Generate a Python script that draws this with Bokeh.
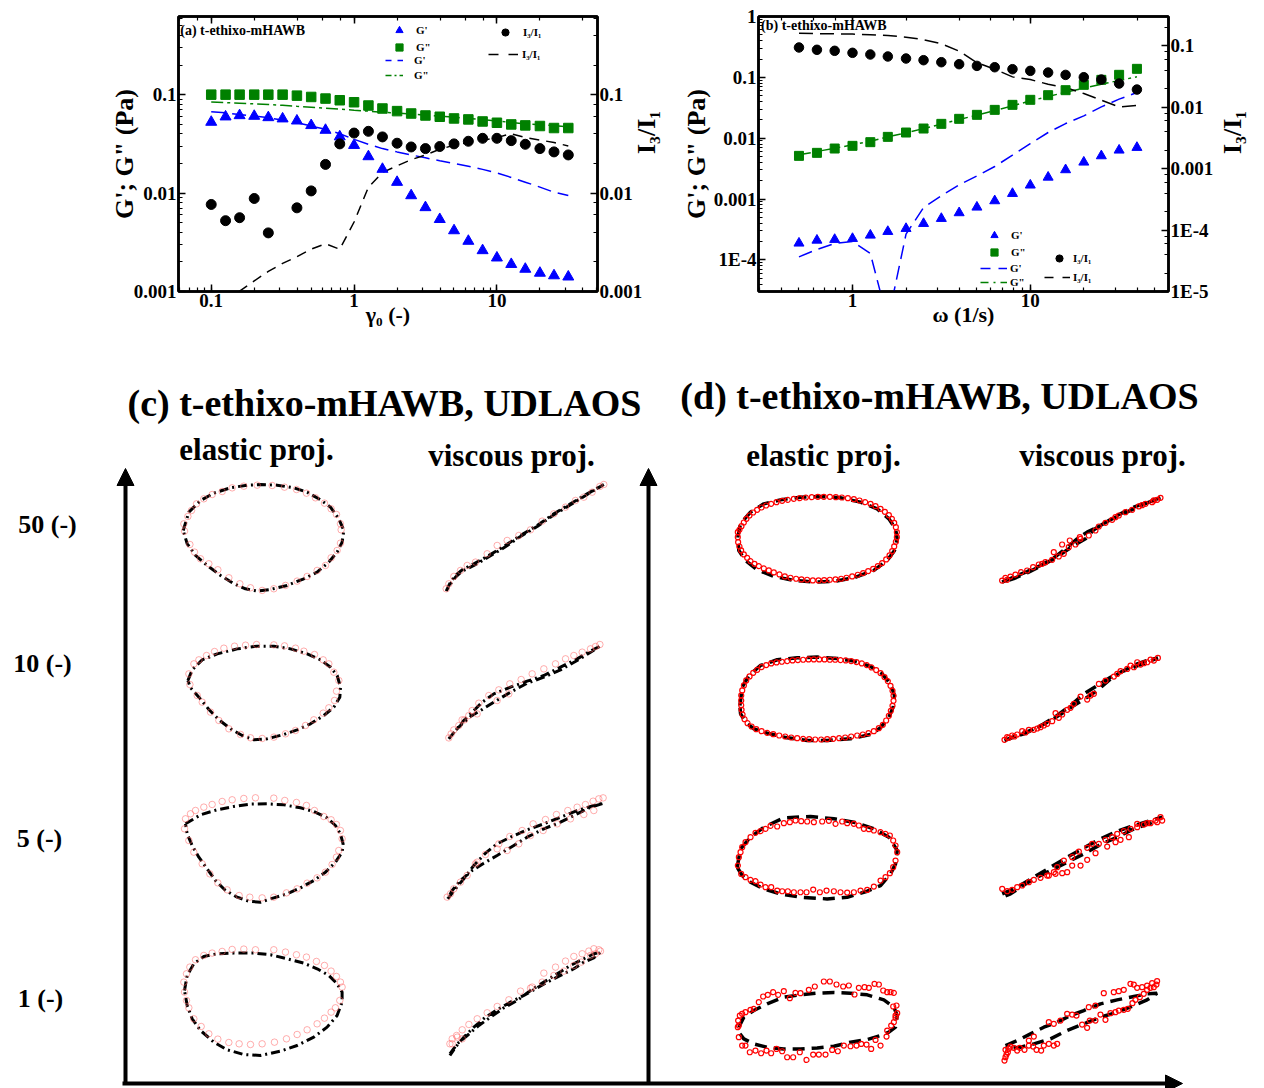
import numpy as np
from bokeh.plotting import figure
from bokeh.models import (Range1d, LogScale, LogAxis, CustomJSTickFormatter, Legend,
                          LegendItem, Arrow, NormalHead, Label)
from bokeh.layouts import column, row
from bokeh.embed import file_html
from bokeh.resources import INLINE

FONT = "Liberation Serif"

# ---------------- panel (a): amplitude sweep ----------------
GAMMA = [0.1, 0.126, 0.158, 0.2, 0.251, 0.316, 0.398, 0.501, 0.631, 0.794, 1.0, 1.26, 1.58,
         2.0, 2.51, 3.16, 3.98, 5.01, 6.31, 7.94, 10.0, 12.6, 15.8, 20.0, 25.1, 31.6]
A_GP = [0.0526, 0.0596, 0.0614, 0.0605, 0.0586, 0.0569, 0.0542, 0.0487, 0.0436, 0.0374, 0.0306,
        0.0235, 0.0175, 0.0129, 0.00944, 0.00714, 0.00541, 0.00416, 0.00325, 0.00261, 0.00220,
        0.00189, 0.00169, 0.00154, 0.00145, 0.00141]
A_GPP = [0.1, 0.1, 0.1, 0.1, 0.1, 0.1, 0.0977, 0.0947, 0.0912, 0.0877, 0.0837, 0.0775, 0.0723,
         0.0680, 0.0643, 0.0614, 0.0596, 0.0573, 0.0560, 0.0534, 0.0518, 0.0498, 0.0487, 0.0480,
         0.0458, 0.0458]
A_GP_FIT = [0.0669, 0.0653, 0.0628, 0.0605, 0.0582, 0.0551, 0.0518, 0.0480, 0.0444, 0.0401, 0.0352,
            0.0313, 0.0283, 0.0262, 0.0244, 0.0228, 0.0213, 0.0200, 0.0187, 0.0174, 0.0160, 0.0144,
            0.0129, 0.0115, 0.0102, 0.00944]
A_GPP_FIT = [0.0844, 0.0830, 0.0818, 0.0805, 0.0793, 0.0780, 0.0762, 0.0745, 0.0728, 0.0711, 0.0695,
             0.0680, 0.0664, 0.0649, 0.0634, 0.0619, 0.0605, 0.0591, 0.0573, 0.0556, 0.0539, 0.0522,
             0.0506, 0.0494, 0.0483, 0.0472]
A_I31_X = [0.1, 0.126, 0.158, 0.2, 0.251, 0.398, 0.501, 0.631, 0.794, 1.0, 1.26, 1.58, 2.0, 2.51,
           3.16, 3.98, 5.01, 6.31, 7.94, 10.0, 12.6, 15.8, 20.0, 25.1, 31.6]
A_I31 = [0.00766, 0.00524, 0.00562, 0.00881, 0.00394, 0.00708, 0.01052, 0.01955, 0.0316, 0.0407,
         0.0424, 0.0372, 0.0321, 0.0294, 0.0283, 0.0297, 0.0316, 0.0336, 0.0360, 0.0360, 0.0341,
         0.0313, 0.0283, 0.0262, 0.0244]
A_I31_FIT = [0.00063, 0.00080, 0.00101, 0.00128, 0.00160, 0.00193, 0.00226, 0.00269, 0.00305,
             0.00269, 0.00508, 0.01146, 0.0162, 0.0189, 0.0218, 0.0244, 0.0279, 0.0306, 0.0326,
             0.0344, 0.0366, 0.0401, 0.0366, 0.0346, 0.0326, 0.0301]

# ---------------- panel (b): frequency sweep ----------------
OMEGA = [0.5, 0.631, 0.794, 1.0, 1.26, 1.58, 2.0, 2.51, 3.16, 3.98, 5.01, 6.31, 7.94, 10.0, 12.6,
         15.8, 20.0, 25.1, 31.6, 39.8]
B_GP = [1.88e-4, 2.10e-4, 2.16e-4, 2.24e-4, 2.54e-4, 2.92e-4, 3.27e-4, 3.95e-4, 4.78e-4, 5.93e-4,
        7.34e-4, 9.33e-4, 1.23e-3, 1.69e-3, 2.28e-3, 3.02e-3, 4.03e-3, 5.12e-3, 6.35e-3, 7.03e-3]
B_GPP = [5.12e-3, 5.74e-3, 6.76e-3, 7.48e-3, 8.60e-3, 0.01051, 0.01239, 0.01441, 0.01720, 0.0208,
         0.0242, 0.0292, 0.0353, 0.0427, 0.0509, 0.0615, 0.0753, 0.0910, 0.110, 0.138]
B_GP_FIT = [1.12e-4, 1.48e-4, 1.86e-4, 2.00e-4, 1.27e-4, 1.0e-5, 2.64e-4, 7.25e-4, 1.13e-3, 1.71e-3,
            2.40e-3, 3.42e-3, 5.26e-3, 8.17e-3, 0.0124, 0.0174, 0.0233, 0.0327, 0.0438, 0.0563]
B_GPP_FIT = [5.32e-3, 6.04e-3, 6.85e-3, 7.77e-3, 8.92e-3, 0.0105, 0.0122, 0.0144, 0.0170, 0.0203,
             0.0239, 0.0285, 0.0340, 0.0411, 0.0484, 0.0570, 0.0664, 0.0773, 0.0887, 0.102]
B_I31 = [0.0939, 0.0861, 0.0829, 0.0769, 0.0722, 0.0670, 0.0621, 0.0583, 0.0541, 0.0502, 0.0471,
         0.0448, 0.0416, 0.0391, 0.0367, 0.0336, 0.0308, 0.0282, 0.0243, 0.0194]
B_I31_FIT = [0.160, 0.158, 0.157, 0.155, 0.152, 0.147, 0.138, 0.126, 0.108, 0.082, 0.053, 0.0416,
             0.0312, 0.0282, 0.0237, 0.0209, 0.0167, 0.0130, 0.0101, 0.0107]

# ---------------- Lissajous loops (strain, stress) ----------------
# arbitrary picture units; the stress reading grows downward (it is flipped when drawn)
C50_EL_LINE = [(68,180),(85,125),(120,90),(160,68),(210,52),(260,44),(300,42),(350,44),(400,52),(440,65),(480,88),(510,110),(535,145),(550,180),(545,215),(530,245),(505,275),(470,305),(430,325),(380,345),(330,357),(290,362),(255,355),(220,340),(180,315),(140,285),(105,255),(80,220),(68,180)]
C50_EL_PTS = [(70,160),(72,182),(82,138),(93,120),(108,100),(130,85),(155,72),(185,63),(215,52),(250,47),(290,44),(335,45),(372,50),(408,57),(438,68),(465,82),(492,98),(512,115),(528,132),(540,160),(542,178),(540,218),(530,240),(512,262),(495,285),(470,300),(440,318),(410,332),(375,345),(340,355),(305,360),(270,352),(238,340),(205,322),(172,298),(145,280),(120,265),(102,245),(88,222)]
C50_VI_LINE = [(857,362),(870,335),(885,315),(905,298),(940,280),(980,258),(1030,228),(1080,195),(1130,165),(1180,130),(1230,100),(1280,70),(1330,42),(1280,72),(1230,103),(1180,133),(1130,168),(1080,198),(1030,232),(980,262),(940,285),(905,302),(885,320),(870,340),(857,362)]
C50_VI_PTS = [(857,355),(865,340),(880,318),(900,300),(920,285),(945,275),(980,250),(1010,225),(1040,210),(1075,195),(1110,178),(1145,152),(1180,130),(1215,110),(1245,90),(1270,80),(1295,65),(1318,48),(1330,42)]

C10_EL_LINE = [(82,150),(95,118),(125,88),(170,70),(230,55),(290,47),(340,47),(390,55),(440,70),(480,88),(510,110),(530,135),(540,170),(538,200),(520,230),(490,255),(450,280),(410,298),(370,312),(320,325),(280,328),(245,315),(210,295),(175,268),(145,237),(115,200),(90,172),(82,150)]
C10_EL_PTS = [(85,130),(88,162),(100,100),(115,88),(138,75),(162,63),(190,53),(222,47),(255,44),(288,42),(340,43),(372,46),(405,53),(430,62),(462,72),(488,88),(505,100),(520,125),(535,150),(528,182),(522,210),(505,232),(488,248),(460,268),(435,285),(405,300),(375,310),(340,320),(305,324),(270,322),(240,312),(205,295),(175,270),(150,245),(125,215),(110,195)]
C10_VI_LINE = [(865,325),(885,300),(910,270),(935,245),(965,215),(1000,190),(1050,170),(1100,152),(1150,135),(1200,110),(1250,85),(1290,62),(1322,45),(1290,65),(1250,90),(1200,118),(1150,140),(1100,158),(1050,185),(1000,215),(960,240),(930,258),(905,280),(885,300),(865,325)]
C10_VI_PTS = [(865,322),(872,310),(880,298),(895,285),(905,268),(925,255),(935,240),(955,218),(985,195),(1015,178),(1048,160),(1082,147),(1115,130),(1150,115),(1185,100),(1215,85),(1240,75),(1265,65),(1290,55),(1305,48),(1318,42),(1010,210),(1045,190),(950,250),(912,268)]

C5_EL_LINE = [(75,580),(120,553),(170,538),(220,528),(270,521),(320,520),(370,523),(420,532),(460,543),(500,562),(525,585),(540,610),(548,640),(545,665),(525,695),(495,725),(460,750),(420,772),(380,790),(340,802),(300,815),(265,812),(230,800),(195,780),(165,750),(140,715),(115,680),(95,645),(80,610),(75,580)]
C5_EL_PTS = [(75,565),(90,550),(105,540),(130,530),(155,522),(185,513),(215,508),(250,504),(285,502),(340,503),(373,510),(408,516),(438,525),(462,540),(490,558),(512,568),(528,582),(540,600),(545,625),(535,660),(528,680),(515,702),(495,725),(470,742),(440,758),(410,775),(378,787),(340,800),(305,802),(268,800),(236,795),(200,778),(172,757),(148,730),(125,700),(100,665),(85,630),(72,595)]
C5_VI_LINE = [(862,805),(885,775),(910,745),(940,705),(975,668),(1010,640),(1050,620),(1100,598),(1150,580),(1200,560),(1250,540),(1300,525),(1330,518),(1290,530),(1240,555),(1200,575),(1150,595),(1100,620),(1060,645),(1010,675),(970,698),(935,720),(900,750),(875,780),(862,805)]
C5_VI_PTS = [(860,800),(870,790),(880,775),(900,755),(920,735),(945,700),(1015,640),(1048,618),(1085,600),(1118,580),(1155,567),(1188,552),(1222,540),(1250,530),(1275,522),(1298,512),(1315,505),(1328,502),(950,695),(975,672),(1010,655),(1040,660),(1075,640),(1110,615),(1148,600),(1190,580),(1230,565),(1270,552),(1300,540)]

C1_EL_LINE = [(72,210),(80,165),(100,130),(130,108),(170,100),(220,98),(280,98),(330,103),(380,115),(430,128),(470,145),(505,165),(530,190),(545,215),(545,245),(530,285),(500,320),(460,350),(410,375),(360,392),(300,405),(250,402),(200,388),(160,365),(120,330),(95,295),(80,255),(72,210)]
C1_EL_PTS = [(70,185),(78,160),(88,140),(105,118),(130,105),(155,98),(185,93),(215,87),(250,86),(285,88),(340,88),(375,95),(408,103),(438,110),(468,123),(492,135),(512,152),(528,168),(540,185),(545,200),(538,240),(525,262),(512,275),(492,293),(470,310),(440,328),(410,342),(378,355),(342,365),(305,370),(270,372),(236,370),(205,366),(172,356),(145,340),(122,318),(100,295),(85,262),(78,240),(72,215)]
C1_VI_LINE = [(868,400),(890,370),(920,345),(955,315),(990,290),(1030,262),(1070,240),(1110,210),(1150,185),(1190,160),(1230,135),(1270,115),(1300,100),(1320,95),(1300,112),(1270,125),(1240,145),(1200,165),(1160,185),(1125,205),(1090,225),(1050,245),(1010,268),(975,290),(940,320),(910,350),(885,380),(868,405)]
C1_VI_PTS = [(868,370),(875,355),(888,345),(905,328),(925,312),(950,295),(980,277),(1010,258),(1045,238),(1080,212),(1115,200),(1150,158),(1185,140),(1215,122),(1240,108),(1265,100),(1285,92),(1300,85),(1315,88),(1320,92),(1305,100),(1290,105),(1262,125),(1240,135),(1210,152),(1180,165),(1145,185),(1110,203),(905,355),(890,350),(875,370)]

D50_EL_LINE = [(112,200),(120,160),(150,125),(190,100),(240,88),(300,80),(360,78),(420,82),(480,95),(530,115),(565,145),(585,175),(590,205),(582,240),(560,270),(520,300),(460,322),(400,333),(340,335),(280,330),(220,318),(170,298),(135,270),(115,240),(112,200)]
D50_EL_PTS = [(112,185),(112,200),(113,215),(117,228),(122,240),(130,252),(140,262),(150,272),(162,280),(175,287),(190,294),(205,300),(220,306),(237,312),(253,318),(270,322),(287,325),(303,327),(320,328),(337,330),(354,330),(371,329),(388,328),(405,327),(422,325),(438,322),(455,318),(472,313),(488,308),(503,302),(518,295),(532,287),(545,278),(557,267),(567,255),(575,242),(581,228),(586,214),(589,200),(589,185),(586,170),(581,157),(574,145),(565,134),(553,124),(540,115),(525,107),(510,100),(494,95),(477,90),(460,86),(442,83),(424,81),(406,80),(388,79),(370,79),(352,79),(334,80),(316,81),(298,83),(280,85),(262,88),(245,91),(228,95),(212,100),(197,105),(183,111),(170,118),(158,126),(147,135),(138,145),(130,156),(123,167),(117,178)]
D50_VI_LINE = [(905,335),(940,320),(980,303),(1020,285),(1060,262),(1095,235),(1130,205),(1160,185),(1200,165),(1250,135),(1300,110),(1340,95),(1380,82),(1340,97),(1300,115),(1250,138),(1210,158),(1180,178),(1155,205),(1120,225),(1090,245),(1060,265),(1020,287),(980,307),(940,324),(905,335)]
D50_VI_PTS = [(905,330),(915,322),(930,318),(945,312),(962,305),(980,300),(998,290),(1015,282),(1035,275),(1055,268),(1075,258),(1090,250),(1105,230),(1125,222),(1140,205),(1165,195),(1185,180),(1195,168),(1215,157),(1235,148),(1255,135),(1275,125),(1295,118),(1315,108),(1335,100),(1355,95),(1370,88),(1380,82),(1138,200),(1108,210),(1085,222),(1060,245),(920,328),(1025,280),(1245,140),(1325,104),(1360,90)]

D10_EL_LINE = [(118,195),(125,140),(145,105),(180,75),(230,58),(290,52),(350,50),(410,54),(460,62),(510,78),(545,100),(570,130),(582,165),(578,200),(565,230),(540,262),(510,282),(450,295),(380,300),(320,300),(260,292),(200,278),(160,265),(135,245),(120,220),(118,195)]
D10_EL_PTS = [(122,180),(122,165),(125,150),(130,135),(137,120),(147,108),(158,97),(170,88),(183,80),(197,74),(212,69),(228,66),(244,64),(260,62),(276,60),(292,59),(308,58),(324,57),(340,57),(356,57),(372,57),(388,58),(404,58),(420,59),(436,60),(452,62),(468,65),(484,69),(499,74),(513,81),(527,89),(540,98),(552,110),(562,122),(570,136),(576,151),(579,166),(579,181),(576,196),(571,211),(565,226),(557,240),(547,253),(535,263),(520,272),(504,278),(487,282),(470,285),(452,288),(434,291),(416,293),(398,295),(380,296),(362,297),(344,297),(326,296),(308,295),(290,293),(272,291),(254,288),(236,285),(218,281),(200,277),(183,272),(167,266),(153,258),(141,248),(132,236),(126,222),(123,208),(122,194)]
D10_VI_LINE = [(912,300),(950,285),(990,270),(1030,250),(1070,225),(1110,195),(1150,160),(1190,135),(1230,110),(1270,90),(1310,70),(1345,58),(1372,52),(1340,65),(1300,80),(1260,95),(1230,115),(1190,150),(1160,170),(1120,195),(1090,215),(1050,240),(1010,262),(970,280),(940,290),(912,300)]
D10_VI_PTS = [(912,298),(920,290),(935,285),(950,282),(965,272),(985,268),(1000,268),(1020,260),(1040,250),(1055,242),(1065,218),(1085,222),(1100,208),(1120,190),(1140,168),(1160,177),(1180,160),(1195,130),(1215,120),(1240,108),(1260,92),(1280,85),(1300,80),(1320,72),(1340,65),(1360,60),(1372,52),(1350,57),(1330,68),(1310,65),(1290,75),(925,292),(942,288),(975,276),(1010,264),(1030,255),(1075,232),(1110,202),(1170,165),(1250,100)]

D5_EL_LINE = [(110,680),(120,625),(150,590),(190,560),(250,532),(330,528),(400,535),(460,545),(520,565),(565,590),(590,630),(585,670),(570,700),(540,735),(500,752),(440,770),(380,775),(300,770),(240,760),(190,745),(150,725),(125,705),(110,680)]
D5_EL_PTS = [(150,590),(165,577),(180,572),(195,565),(210,556),(230,558),(250,548),(268,545),(285,540),(302,542),(320,543),(340,545),(365,543),(385,541),(405,550),(425,543),(440,548),(460,550),(475,555),(490,565),(505,566),(520,570),(540,575),(555,580),(568,585),(578,600),(585,615),(590,635),(585,660),(578,680),(568,698),(555,710),(540,720),(520,738),(500,748),(480,750),(460,755),(440,756),(420,755),(400,752),(378,750),(358,755),(338,747),(318,755),(300,755),(280,755),(262,752),(245,752),(230,750),(212,740),(195,740),(180,732),(165,722),(150,718),(135,710),(122,700),(112,675),(115,650),(120,635),(125,620),(135,605)]
D5_VI_LINE = [(905,760),(950,740),(1000,710),(1050,680),(1100,650),(1150,622),(1200,595),(1250,572),(1300,555),(1350,540),(1385,530),(1350,548),(1300,565),(1250,590),(1200,612),(1150,640),(1100,665),(1050,690),(1000,715),(960,740),(930,760),(905,770)]
D5_VI_PTS = [(905,745),(920,752),(935,748),(950,740),(965,735),(985,725),(1000,718),(1020,712),(1040,705),(1060,695),(1070,680),(1090,660),(1115,650),(1135,633),(1160,622),(1175,610),(1195,610),(1215,598),(1235,590),(1250,580),(1270,572),(1290,565),(1310,560),(1330,552),(1350,548),(1370,545),(1385,540),(1380,530),(1365,540),(1340,548),(1310,550),(1285,590),(1260,598),(1245,605),(1220,618),(1185,638),(1160,658),(1140,675),(1115,675),(1100,695),(1085,698),(1065,700),(1045,705)]

D1_EL_LINE = [(115,200),(130,170),(160,150),(200,130),(250,110),(300,103),(350,98),(400,96),(450,98),(500,103),(550,118),(580,140),(590,165),(585,200),(565,215),(540,225),(500,237),(450,245),(400,257),(350,262),(300,265),(250,265),(200,260),(160,250),(130,235),(115,215),(115,200)]
D1_EL_PTS = [(115,195),(113,180),(118,165),(125,160),(135,155),(150,148),(160,145),(175,125),(188,108),(202,103),(218,95),(233,103),(250,92),(268,113),(285,97),(300,98),(325,88),(343,78),(370,63),(388,63),(408,72),(428,78),(445,75),(462,102),(475,82),(492,80),(505,82),(522,70),(535,72),(548,90),(560,95),(570,95),(580,97),(578,138),(588,135),(590,158),(585,165),(585,172),(580,185),(572,195),(560,210),(558,228),(540,255),(525,238),(512,265),(498,252),(482,250),(468,255),(450,257),(430,255),(412,272),(395,268),(375,282),(355,282),(338,282),(318,298),(298,275),(278,290),(260,290),(245,272),(228,265),(212,278),(198,270),(182,278),(165,270),(148,275),(135,255),(125,255),(115,230),(112,200)]
D1_VI_LINE = [(915,255),(950,240),(990,220),(1030,200),(1070,185),(1110,165),(1150,150),(1200,130),(1250,118),(1300,108),(1340,100),(1370,98),(1340,118),(1300,135),(1250,155),(1200,170),(1150,190),(1100,210),(1050,235),(1000,250),(960,260),(930,263),(915,262)]
D1_VI_PTS = [(912,300),(915,290),(918,282),(922,275),(915,268),(925,265),(930,258),(940,262),(950,270),(958,262),(972,268),(985,255),(998,258),(1008,268),(1022,270),(1030,255),(1045,250),(1060,255),(1070,250),(985,240),(1000,228),(1045,185),(1060,190),(1080,180),(1100,160),(1115,162),(1128,165),(1145,192),(1160,202),(1168,180),(1185,180),(1200,162),(1215,178),(1230,158),(1245,155),(1255,150),(1270,148),(1282,145),(1296,128),(1305,118),(1318,110),(1330,100),(1340,88),(1350,82),(1360,80),(1368,72),(1370,62),(1355,68),(1340,75),(1325,80),(1310,82),(1300,72),(1290,70),(1270,88),(1255,92),(1240,95),(1210,98),(1185,135),(1165,140)]

ROW_LABELS = ["50 (-)", "10 (-)", "5 (-)", "1 (-)"]


# ---------------- helpers ----------------
def logfmt():
    return CustomJSTickFormatter(code="""
        const e = Math.round(Math.log10(tick));
        if (e >= 0) { return String(Math.round(tick)); }
        if (e < -3) { return "1E" + e; }
        return tick.toFixed(-e);
    """)


def blankfmt():
    return CustomJSTickFormatter(code="return '';")


def style_axis(ax, label_size="26px", tick_size="19px"):
    ax.axis_line_width = 2.5
    ax.axis_line_color = "black"
    ax.major_tick_in = 7
    ax.major_tick_out = 0
    ax.minor_tick_in = 4
    ax.minor_tick_out = 0
    ax.major_tick_line_width = 1.5
    ax.minor_tick_line_width = 1.2
    ax.major_label_text_font = FONT
    ax.major_label_text_font_style = "bold"
    ax.major_label_text_font_size = tick_size
    ax.major_label_text_color = "black"
    ax.major_label_standoff = 2
    ax.axis_label_text_font = FONT
    ax.axis_label_text_font_style = "bold"
    ax.axis_label_text_font_size = label_size
    ax.axis_label_text_color = "black"


def add_key(p, rend, text, gx0, gx1, cy, gh, standoff, fl, fb):
    lg = Legend(items=[LegendItem(label=text, renderers=[rend])],
                location=(gx0 - fl, fb - (cy + gh / 2)),
                glyph_width=int(round(gx1 - gx0)), glyph_height=gh, label_height=gh,
                label_width=10, label_standoff=standoff, padding=0, margin=0, spacing=0,
                border_line_color=None, background_fill_alpha=0,
                label_text_font=FONT, label_text_font_style="bold", label_text_font_size="11px",
                label_text_color="black")
    p.add_layout(lg, "center")


def key_line(p, color, dash, y_range_name="default"):
    # swatch-only renderer (one point, draws nothing in the plot) with the key's short dashes
    return p.line(x=[1e-9], y=[1e-9], line_color=color, line_width=1.5, line_dash=dash,
                  y_range_name=y_range_name)


def make_log_fig(width, xr, yr, yr2, mbl, mbr, mbb, right_standoff):
    p = figure(width=width, height=348, x_axis_type="log", y_axis_type="log",
               x_range=Range1d(*xr), y_range=Range1d(*yr),
               output_backend="svg", toolbar_location=None,
               min_border_left=mbl, min_border_right=mbr, min_border_top=16, min_border_bottom=mbb)
    p.grid.visible = False
    p.outline_line_color = "black"
    p.outline_line_width = 2.5
    p.background_fill_color = "white"
    p.border_fill_color = "white"
    p.extra_y_ranges = {"r": Range1d(*yr2)}
    p.extra_y_scales = {"r": LogScale()}
    bx = p.below[0]
    ly = p.left[0]
    bx.formatter = logfmt()
    ly.formatter = logfmt()
    style_axis(bx, label_size="22px")
    style_axis(ly)
    axr = LogAxis(y_range_name="r", formatter=logfmt(), axis_label="I₃/I₁")
    style_axis(axr)
    axr.axis_label_standoff = right_standoff
    try:
        axr.axis_label_orientation = np.pi / 2   # read bottom-to-top like the reference
    except AttributeError:
        pass
    p.add_layout(axr, "right")
    axt = LogAxis(formatter=blankfmt())
    style_axis(axt, tick_size="1px")
    axt.major_label_standoff = 0
    p.add_layout(axt, "above")
    return p, bx, ly


# ---------------- panel (a) ----------------
pa, pa_x, pa_y = make_log_fig(678, (0.059, 50.6), (0.001, 0.622), (0.001, 0.622), 178, 78, 54, 1)
pa_x.axis_label = "γ₀ (-)"
pa_x.axis_label_standoff = -8
pa_y.axis_label = "G'; G\" (Pa)"
pa_y.axis_label_standoff = -8

pa.line(GAMMA, A_GP_FIT, line_color="#0000ff", line_width=1.5, line_dash="14 7")
pa.line(GAMMA, A_GPP_FIT, line_color="#008000", line_width=1.5, line_dash="12 4 3 4")
pa.line(GAMMA, A_I31_FIT, line_color="black", line_width=1.5, line_dash="10 7", y_range_name="r")
ra_gp = pa.scatter(GAMMA, A_GP, marker="triangle", size=11, color="#0000ff")
ra_gpp = pa.scatter(GAMMA, A_GPP, marker="square", size=9.5, color="#008000")
ra_i3 = pa.scatter(A_I31_X, A_I31, marker="circle", size=10, color="black", y_range_name="r")
ka_gpf = key_line(pa, "#0000ff", "6 6")
ka_gppf = key_line(pa, "#008000", "6 3 2 3")
ka_i3f = key_line(pa, "black", "10 10", "r")

pa.add_layout(Label(x=0.0607, y=0.452, text="(a) t-ethixo-mHAWB", text_font=FONT,
                    text_font_style="bold", text_font_size="14px", text_baseline="middle",
                    text_color="black"))
FLA, FBA = 178, 294
add_key(pa, ra_gp, "G'", 390, 408, 33.3, 18, 8, FLA, FBA)
add_key(pa, ra_gpp, 'G"', 390, 408, 50, 18, 8, FLA, FBA)
add_key(pa, ka_gpf, "G'", 385, 403, 63.3, 12, 11, FLA, FBA)
add_key(pa, ka_gppf, 'G"', 385, 403, 78, 12, 11, FLA, FBA)
add_key(pa, ra_i3, "I₃/I₁", 496, 514, 35, 18, 9, FLA, FBA)
add_key(pa, ka_i3f, "I₃/I₁", 488, 518, 57.3, 12, 4, FLA, FBA)

# ---------------- panel (b) ----------------
pb, pb_x, pb_y = make_log_fig(586, (0.296, 59.9), (3.02e-5, 1.0), (1e-5, 0.30), 78, 90, 57, 16)
pb_x.axis_label = "ω (1/s)"
pb_x.axis_label_standoff = -8
pb_y.axis_label = "G'; G\" (Pa)"
pb_y.axis_label_standoff = 0

pb.line(OMEGA, B_GP_FIT, line_color="#0000ff", line_width=1.5, line_dash="14 7")
pb.line(OMEGA, B_GPP_FIT, line_color="#008000", line_width=1.5, line_dash="12 4 3 4")
pb.line(OMEGA, B_I31_FIT, line_color="black", line_width=1.5, line_dash="14 7", y_range_name="r")
rb_gp = pb.scatter(OMEGA, B_GP, marker="triangle", size=10, color="#0000ff")
rb_gpp = pb.scatter(OMEGA, B_GPP, marker="square", size=9, color="#008000")
rb_i3 = pb.scatter(OMEGA, B_I31, marker="circle", size=9.5, color="black", y_range_name="r")
kb_gpf = key_line(pb, "#0000ff", "10 8")
kb_gppf = key_line(pb, "#008000", "8 5 2 5")
kb_i3f = key_line(pb, "black", "9 9", "r")

pb.add_layout(Label(x=0.306, y=0.70, text="(b) t-ethixo-mHAWB", text_font=FONT,
                    text_font_style="bold", text_font_size="14px", text_baseline="middle",
                    text_color="black"))
FLB, FBB = 756, 291
add_key(pb, rb_gp, "G'", 983, 1001, 235, 18, 8, FLB, FBB)
add_key(pb, rb_gpp, 'G"', 983, 1001, 252.3, 18, 8, FLB, FBB)
add_key(pb, kb_gpf, "G'", 978, 1005, 267.7, 12, 3, FLB, FBB)
add_key(pb, kb_gppf, 'G"', 978, 1005, 281.7, 12, 3, FLB, FBB)
add_key(pb, rb_i3, "I₃/I₁", 1048, 1066, 257.7, 18, 5, FLB, FBB)
add_key(pb, kb_i3f, "I₃/I₁", 1042, 1068, 277.3, 12, 3, FLB, FBB)

# ---------------- panels (c), (d): UDLAOS projections ----------------
pc = figure(width=1264, height=740, x_range=Range1d(0, 1264), y_range=Range1d(1088, 348),
            output_backend="svg", toolbar_location=None, x_axis_location=None,
            y_axis_location=None, min_border=0, min_border_left=0, min_border_right=0,
            min_border_top=0, min_border_bottom=0)
pc.grid.visible = False
pc.outline_line_color = None
pc.background_fill_color = "white"
pc.border_fill_color = "white"


def loop_xy(points, ref, box):
    x = np.array([q[0] for q in points], float)
    s = -np.array([q[1] for q in points], float)
    rx = np.array([q[0] for q in ref], float)
    rs = -np.array([q[1] for q in ref], float)
    gx = (x - (rx.max() + rx.min()) / 2) / ((rx.max() - rx.min()) / 2)
    gs = (s - (rs.max() + rs.min()) / 2) / ((rs.max() - rs.min()) / 2)
    cx, cy, hw, hh = box
    return cx + gx * hw, cy - gs * hh


# layout boxes: (centre x, centre y, half width, half height) on the page
LOOPS = [
    ("c", C50_EL_LINE, C50_EL_PTS, (263.0, 537.3, 80.3, 53.3)),
    ("c", C50_VI_LINE, C50_VI_PTS, (524.5, 537.3, 78.8, 53.3)),
    ("c", C10_EL_LINE, C10_EL_PTS, (263.7, 692.5, 76.3, 46.8)),
    ("c", C10_VI_LINE, C10_VI_PTS, (524.5, 691.7, 76.2, 46.7)),
    ("c", C5_EL_LINE, C5_EL_PTS, (263.8, 852.5, 78.8, 49.2)),
    ("c", C5_VI_LINE, C5_VI_PTS, (525.3, 850.5, 78.0, 47.8)),
    ("c", C1_EL_LINE, C1_EL_PTS, (262.8, 1003.8, 78.8, 51.2)),
    ("c", C1_VI_LINE, C1_VI_PTS, (524.7, 1003.3, 75.3, 51.7)),
    ("d", D50_EL_LINE, D50_EL_PTS, (817.0, 538.8, 79.7, 42.8)),
    ("d", D50_VI_LINE, D50_VI_PTS, (1080.8, 539.5, 79.2, 42.2)),
    ("d", D10_EL_LINE, D10_EL_PTS, (816.7, 698.3, 77.3, 41.7)),
    ("d", D10_VI_LINE, D10_VI_PTS, (1080.7, 698.7, 76.7, 41.3)),
    ("d", D5_EL_LINE, D5_EL_PTS, (816.7, 857.2, 80.0, 41.2)),
    ("d", D5_VI_LINE, D5_VI_PTS, (1081.7, 856.7, 80.0, 40.0)),
    ("d", D1_EL_LINE, D1_EL_PTS, (817.5, 1020.2, 79.2, 28.2)),
    ("d", D1_VI_LINE, D1_VI_PTS, (1080.8, 1020.2, 75.8, 27.5)),
]

for panel, line_pts, pts, box in LOOPS:
    lx, ly = loop_xy(line_pts, line_pts, box)
    px, py = loop_xy(pts, line_pts, box)
    if panel == "c":
        pc.line(lx, ly, line_color="black", line_width=3, line_dash="9 4 2 4")
        pc.scatter(px, py, marker="circle", size=6.5, fill_color=None,
                   line_color="#ff6a6a", line_alpha=0.55, line_width=1)
    else:
        pc.line(lx, ly, line_color="black", line_width=3.5, line_dash="12 7")
        pc.scatter(px, py, marker="circle", size=5, fill_color=None,
                   line_color="#ff0000", line_width=1.2)

# arrows
head = dict(size=17, fill_color="black", line_color="black", line_width=1)
pc.add_layout(Arrow(end=NormalHead(**head), x_start=125, y_start=1084, x_end=125, y_end=468,
                    line_width=4, line_color="black"))
pc.add_layout(Arrow(end=NormalHead(**head), x_start=648, y_start=1084, x_end=648, y_end=468,
                    line_width=4, line_color="black"))
pc.add_layout(Arrow(end=NormalHead(**head), x_start=122, y_start=1083, x_end=1182, y_end=1083,
                    line_width=4, line_color="black"))


def add_text(x, y, text, size):
    pc.add_layout(Label(x=x, y=y, text=text, text_font=FONT, text_font_style="bold",
                        text_font_size=size, text_align="center", text_baseline="middle",
                        text_color="black"))


add_text(384, 402, "(c) t-ethixo-mHAWB, UDLAOS", "38px")
add_text(939, 395, "(d) t-ethixo-mHAWB, UDLAOS", "38px")
add_text(256, 449, "elastic proj.", "31px")
add_text(511, 455, "viscous proj.", "31px")
add_text(823, 455, "elastic proj.", "31px")
add_text(1102, 455, "viscous proj.", "31px")
for lab, xx, yy in zip(ROW_LABELS, [47, 42, 39, 40], [524, 663, 838, 998]):
    add_text(xx, yy, lab, "26px")

layout = column(row(pa, pb), pc)
open("out.html", "w").write(file_html(layout, INLINE))
